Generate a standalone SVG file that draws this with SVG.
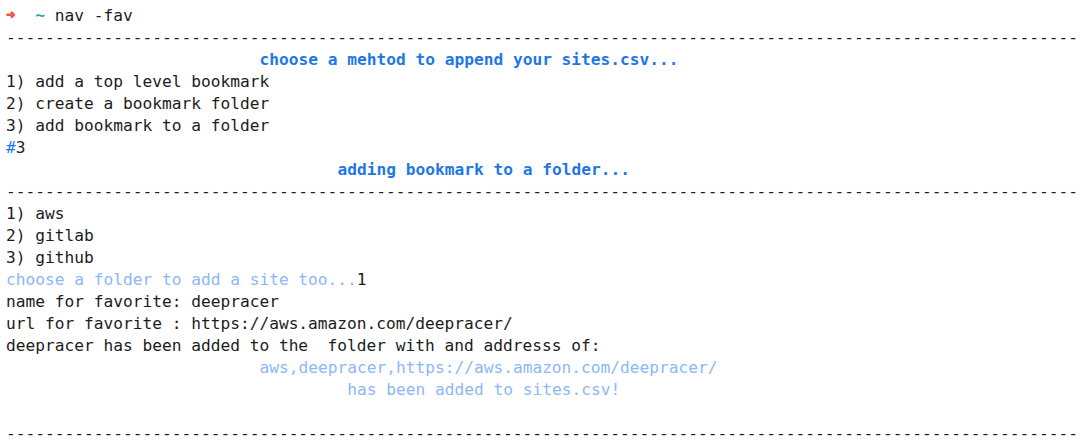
<svg xmlns="http://www.w3.org/2000/svg" width="1085" height="444" viewBox="0 0 1085 444">
<style>
text{font-family:"DejaVu Sans Mono","Liberation Mono",monospace;font-size:16.2px;fill:#1c1c1c;white-space:pre}
.b{font-weight:bold;fill:#1f77e6}
.l{fill:#8cb8f6}
.h{fill:#1f77e6}
.r{fill:#ea5a52;stroke:#ea5a52;stroke-width:1.1px;font-weight:bold}
.t{fill:#2aa4a6;font-weight:bold}
</style>
<rect width="1085" height="444" fill="#ffffff"/>
<g id="prompt">
<text x="6" y="20" class="r" style="font-size:15px">➜</text>
<text x="35.25" y="21" class="t">~</text>
<text x="54.75" y="21">nav -fav</text>
</g>
<g id="rule1"><text x="6" y="43">--------------------------------------------------------------------------------------------------------------</text></g>
<g id="menu">
<text x="259.5" y="65" class="b">choose a mehtod to append your sites.csv...</text>
<text x="6" y="87">1) add a top level bookmark</text>
<text x="6" y="109">2) create a bookmark folder</text>
<text x="6" y="131">3) add bookmark to a folder</text>
<text x="6" y="153"><tspan class="h">#</tspan>3</text>
<text x="337.5" y="175" class="b">adding bookmark to a folder...</text>
</g>
<g id="rule2"><text x="6" y="197">--------------------------------------------------------------------------------------------------------------</text></g>
<g id="folders">
<text x="6" y="219">1) aws</text>
<text x="6" y="241">2) gitlab</text>
<text x="6" y="263">3) github</text>
<text x="6" y="285"><tspan class="l">choose a folder to add a site too...</tspan>1</text>
<text x="6" y="307">name for favorite: deepracer</text>
<text x="6" y="329">url for favorite : https://aws.amazon.com/deepracer/</text>
<text x="6" y="351">deepracer has been added to the  folder with and addresss of:</text>
<text x="259.5" y="373" class="l">aws,deepracer,https://aws.amazon.com/deepracer/</text>
<text x="347.25" y="395" class="l">has been added to sites.csv!</text>
</g>
<g id="rule3"><text x="6" y="439">--------------------------------------------------------------------------------------------------------------</text></g>
</svg>
